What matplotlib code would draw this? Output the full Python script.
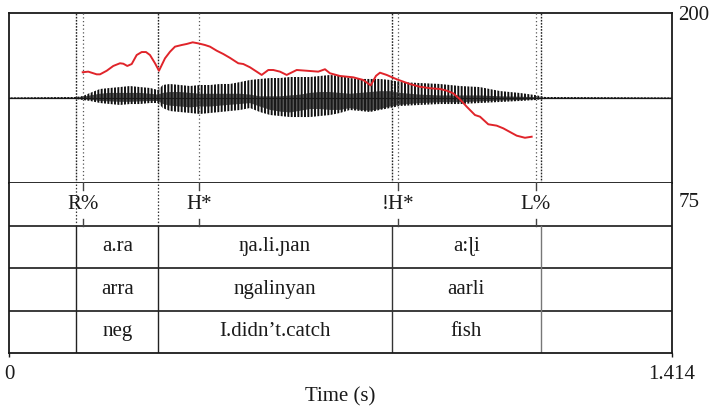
import matplotlib
matplotlib.use("Agg")
import matplotlib.pyplot as plt

plt.rcParams['font.family'] = ['Liberation Serif', 'DejaVu Serif']
plt.rcParams['hatch.linewidth'] = 1.4

duration = 1.414

# word-level interval boundaries (s) and tier labels
word_bounds = [0.0, 0.1436, 0.3184, 0.816, 1.134, duration]
ipa_labels = ["", "a.ra", "ŋa.li.ɲan", "a:ɭi", ""]
orth_labels = ["", "arra", "ngalinyan", "aarli", ""]
gloss_labels = ["", "neg", "I.didn’t.catch", "fish", ""]

# tone points (s)
tone_times = [0.1585, 0.406, 0.829, 1.123]
tone_labels = ["R%", "H*", "!H*", "L%"]

# F0 track (s, Hz)
pitch_t = [0.1572, 0.1691, 0.1870, 0.1941, 0.2084, 0.2224, 0.2367, 0.2438,
           0.2523, 0.2617, 0.2723, 0.2830, 0.2922, 0.3007, 0.3114, 0.3199,
           0.3327, 0.3434, 0.3540, 0.3683, 0.3790, 0.3918, 0.4037, 0.4180,
           0.4287, 0.4430, 0.4570, 0.4713, 0.4890, 0.4997, 0.5140, 0.5282,
           0.5389, 0.5530, 0.5637, 0.5779, 0.5922, 0.6136, 0.6349, 0.6596,
           0.6739, 0.6846, 0.7059, 0.7343, 0.7556, 0.7714, 0.7827, 0.7912,
           0.8055, 0.8268, 0.8552, 0.8765, 0.8978, 0.9192, 0.9335, 0.9475,
           0.9618, 0.9761, 0.9938, 1.0045, 1.0222, 1.0401, 1.0542, 1.0828,
           1.1004, 1.1147]
pitch_hz = [160.4, 160.8, 159.0, 159.0, 161.4, 164.6, 166.4, 166.1,
            164.6, 165.9, 171.9, 173.9, 173.9, 171.9, 166.4, 161.4,
            169.7, 174.1, 177.5, 178.6, 179.3, 180.4, 179.7, 178.6,
            177.5, 174.8, 172.6, 170.0, 166.4, 165.9, 163.7, 160.8,
            158.6, 161.9, 161.9, 160.8, 158.6, 161.9, 161.4, 160.8,
            162.4, 159.7, 157.9, 157.0, 155.2, 151.6, 158.0, 160.1,
            158.6, 155.7, 152.5, 150.7, 149.7, 149.2, 148.1, 146.3,
            142.3, 137.4, 131.8, 130.7, 125.6, 124.7, 122.9, 118.0,
            116.6, 117.3]

# waveform amplitude envelope (relative units)
env_t = [0.0, 0.143, 0.158, 0.173, 0.194, 0.215, 0.237, 0.258, 0.279, 0.301,
         0.318, 0.328, 0.343, 0.365, 0.386, 0.407, 0.429, 0.450, 0.471,
         0.493, 0.514, 0.535, 0.557, 0.578, 0.599, 0.621, 0.642, 0.663,
         0.685, 0.706, 0.727, 0.749, 0.770, 0.791, 0.813, 0.834, 0.876,
         0.919, 0.962, 1.004, 1.047, 1.090, 1.122, 1.143, duration]
env_hi = [0.006, 0.012, 0.024, 0.060, 0.106, 0.118, 0.129, 0.141, 0.129, 0.118,
          0.094, 0.153, 0.165, 0.153, 0.141, 0.153, 0.153, 0.165, 0.165,
          0.188, 0.212, 0.224, 0.235, 0.235, 0.247, 0.247, 0.247, 0.259,
          0.271, 0.259, 0.235, 0.224, 0.224, 0.224, 0.212, 0.188, 0.176,
          0.165, 0.141, 0.129, 0.082, 0.059, 0.035, 0.012, 0.006]
env_lo = [-0.006, -0.012, -0.024, -0.035, -0.059, -0.071, -0.082, -0.071, -0.071, -0.059,
          -0.059, -0.118, -0.153, -0.165, -0.176, -0.188, -0.176, -0.165, -0.153,
          -0.141, -0.118, -0.165, -0.200, -0.212, -0.224, -0.224, -0.224, -0.212,
          -0.200, -0.176, -0.141, -0.153, -0.165, -0.141, -0.118, -0.094, -0.082,
          -0.071, -0.071, -0.059, -0.047, -0.035, -0.024, -0.012, -0.006]
core_hi = [0.004, 0.005, 0.015, 0.030, 0.050, 0.060, 0.060, 0.060, 0.060, 0.050,
           0.040, 0.060, 0.070, 0.070, 0.060, 0.050, 0.050, 0.050, 0.050,
           0.050, 0.040, 0.020, 0.020, 0.020, 0.030, 0.040, 0.060, 0.070,
           0.070, 0.060, 0.050, 0.060, 0.070, 0.080, 0.080, 0.060, 0.040,
           0.030, 0.030, 0.030, 0.020, 0.015, 0.010, 0.005, 0.004]
core_lo = [-0.004, -0.005, -0.015, -0.020, -0.035, -0.040, -0.045, -0.045, -0.040, -0.035,
           -0.035, -0.070, -0.090, -0.100, -0.110, -0.100, -0.100, -0.090, -0.080,
           -0.070, -0.060, -0.100, -0.140, -0.160, -0.170, -0.150, -0.130, -0.130,
           -0.140, -0.140, -0.120, -0.140, -0.150, -0.130, -0.100, -0.080, -0.060,
           -0.050, -0.050, -0.040, -0.030, -0.025, -0.015, -0.005, -0.004]

FW, FH = 710, 412
fig = plt.figure(figsize=(FW / 100, FH / 100), dpi=100)
left = 9 / FW
width = 663 / FW


def fy(y):
    return (FH - y) / FH


ax_w = fig.add_axes([left, fy(183), width, 170 / FH])
ax_t = fig.add_axes([left, fy(353), width, 170 / FH])
ax_p = fig.add_axes([left, fy(200), width, 187 / FH], facecolor="none")

frame_lw = 1.3
ink = "#1a1a1a"

# ---- waveform panel ----
ax_w.set_xlim(0, duration)
ax_w.set_ylim(-1, 1)
ax_w.set_xticks([])
ax_w.set_yticks([])
for s in ax_w.spines.values():
    s.set_linewidth(frame_lw)
    s.set_color(ink)

ax_w.plot([0, duration], [0, 0], color=ink, lw=0.9, zorder=2)
ax_w.fill_between(env_t, env_lo, env_hi, facecolor="none", edgecolor="#111111",
                  hatch="|||||", linewidth=0, zorder=2)
ax_w.fill_between(env_t, core_lo, core_hi, facecolor="#1c1c1c", linewidth=0,
                  zorder=3, alpha=0.75)

for t in word_bounds[1:-1]:
    ax_w.axvline(t, color="#222222", lw=1.0, ls=(0, (1.2, 1.0)), zorder=4)
for t in tone_times:
    ax_w.axvline(t, color="#555555", lw=0.9, ls=(0, (1.0, 2.0)), zorder=4)

# ---- pitch overlay ----
ax_p.set_xlim(0, duration)
ax_p.set_ylim(75, 200)
ax_p.plot(pitch_t, pitch_hz, color="#e0242a", lw=1.4, zorder=5)
ax_p.set_xticks([])
for s in ax_p.spines.values():
    s.set_visible(False)
ax_p.yaxis.tick_right()
ax_p.set_yticks([75, 200])
ax_p.set_yticklabels(["75", "200"])
ax_p.tick_params(axis="y", length=0, pad=4.5, labelsize=15, labelcolor=ink)

# ---- tiers ----
ax_t.set_xlim(0, duration)
ax_t.set_ylim(0, 4)
ax_t.set_yticks([])
ax_t.spines["top"].set_visible(False)
for name in ("left", "right", "bottom"):
    ax_t.spines[name].set_linewidth(frame_lw)
    ax_t.spines[name].set_color(ink)
for yb in (1, 2, 3):
    ax_t.axhline(yb, color=ink, lw=1.2)

ax_t.set_xticks([0, duration])
ax_t.set_xticklabels(["", ""])
ax_t.tick_params(axis="x", direction="out", length=3, width=1.0, color=ink)

# boundaries in interval tiers
bound_colors = ["#222222", "#222222", "#333333", "#777777"]
for t, c in zip(word_bounds[1:-1], bound_colors):
    ax_t.plot([t, t], [0, 3], color=c, lw=1.0)
# first two word boundaries continue dotted through the tone tier
for t in word_bounds[1:3]:
    ax_t.plot([t, t], [3, 4], color="#333333", lw=0.9, ls=(0, (1.2, 1.5)))

# tone tier: point ticks and labels
tick_len = 7 / 42.5
for t, lab in zip(tone_times, tone_labels):
    ax_t.plot([t, t], [4 - tick_len, 4], color="#444444", lw=1.0)
    ax_t.plot([t, t], [3, 3 + tick_len], color="#444444", lw=1.0)
    ax_t.text(t, 3.5, lab, ha="center", va="center", fontsize=15, color=ink)

for row, labels in ((2.5, ipa_labels), (1.5, orth_labels), (0.5, gloss_labels)):
    for i, lab in enumerate(labels):
        if lab:
            mid = (word_bounds[i] + word_bounds[i + 1]) / 2
            ax_t.text(mid, row, lab, ha="center", va="center", fontsize=15,
                      color=ink)

# time axis labels
ax_t.text(0, -0.5, "0", ha="center", va="center", fontsize=15, color=ink)
ax_t.text(duration, -0.5, "1.414", ha="center", va="center", fontsize=15,
          color=ink)
ax_t.text(duration / 2, -1.03, "Time (s)", ha="center", va="center",
          fontsize=15, color=ink)

fig.savefig("out.png", dpi=100)
